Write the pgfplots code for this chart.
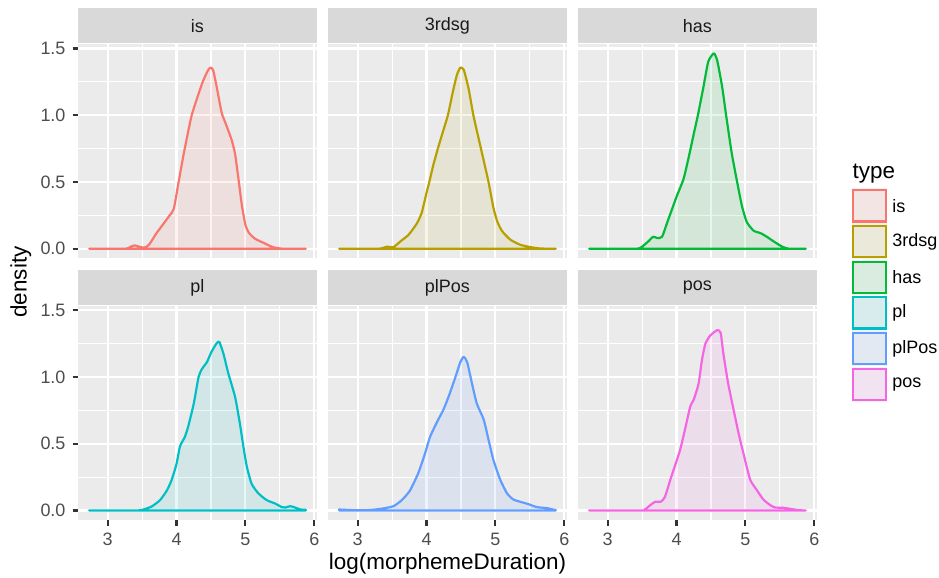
\documentclass[border=0pt]{standalone}
\usepackage{pgfplots}
\pgfplotsset{compat=1.18}
\usepackage{fontspec}
\setmainfont{Liberation Sans}
\definecolor{grey92}{HTML}{EBEBEB}
\definecolor{grey85}{HTML}{D9D9D9}
\definecolor{grey95}{HTML}{F2F2F2}
\definecolor{grey30}{HTML}{4D4D4D}
\definecolor{grey20}{HTML}{333333}
\definecolor{grey10}{HTML}{1A1A1A}
\definecolor{c1}{HTML}{F8766D}
\definecolor{c2}{HTML}{B79F00}
\definecolor{c3}{HTML}{00BA38}
\definecolor{c4}{HTML}{00BFC4}
\definecolor{c5}{HTML}{619CFF}
\definecolor{c6}{HTML}{F564E3}
\pgfplotsset{
 panel/.style={
  scale only axis, width=116.77pt, height=105.1pt,
  anchor=north west,
  xmin=2.573, xmax=6.034, ymin=-0.073, ymax=1.533,
  axis background/.style={fill=grey92},
  axis line style={draw=none},
  xmajorgrids, ymajorgrids, xminorgrids, yminorgrids,
  major grid style={white, line width=1.07pt},
  minor grid style={white, line width=0.53pt},
  xtick={3,4,5,6}, ytick={0,0.5,1,1.5},
  minor xtick={3.5,4.5,5.5}, minor ytick={0.25,0.75,1.25},
  xtick pos=bottom, ytick pos=left,
  tick align=outside, major tick length=2.75pt, minor tick length=0pt,
  tick style={grey20, line width=1.07pt},
  xticklabels={3,4,5,6}, yticklabels={0.0,0.5,1.0,1.5},
  /pgf/number format/assume math mode=true,
  ticklabel style={font=\fontsize{8.8}{10}\selectfont, text=grey30},
 },
 dens/.style={line width=1.07pt, line join=round, smooth, tension=0.35, draw=#1, fill=#1, fill opacity=0.1, draw opacity=1},
 notopx/.style={xmajorticks=false},
 noleft/.style={ymajorticks=false},
}
\begin{document}
\begin{tikzpicture}
\begin{scope}[x=0.49pt,y=0.49pt]
\path[use as bounding box] (0,0) rectangle (939,577);
\foreach \xl/\lab in {78.3/is,328.3/3rdsg,578.3/has} {
  \fill[grey85] (\xl,533.5) rectangle ++(238.3,35.2);
  \node[text=grey10, font=\fontsize{8.8}{10}\selectfont] at (\xl+119.15,551.1) {\lab};
}
\foreach \xl/\lab in {78.3/pl,328.3/plPos,578.3/pos} {
  \fill[grey85] (\xl,272) rectangle ++(238.3,35);
  \node[text=grey10, font=\fontsize{8.8}{10}\selectfont] at (\xl+119.15,289.5) {\lab};
}
\node[rotate=90, anchor=base, font=\fontsize{11}{13}\selectfont] at (26.5,295) {density};
\node[anchor=base, font=\fontsize{11}{13}\selectfont] at (447.5,8) {log(morphemeDuration)};
\node[anchor=base west, font=\fontsize{11}{13}\selectfont, inner sep=0pt] at (852.3,398.4) {type};
\foreach \i/\c/\lab in {0/c1/is,1/c2/3rdsg,2/c3/has,3/c4/pl,4/c5/plPos,5/c6/pos} {
  \pgfmathsetmacro{\yt}{577-189.3-35.67*\i}
  \fill[grey95] (851.5,\yt+0.8) rectangle ++(35.9,-35.3);
  \filldraw[draw=\c, fill=\c, fill opacity=0.1, draw opacity=1, line width=1.07pt] (853.3,\yt-1) rectangle ++(32.4,-31.2);
  \node[anchor=west, inner sep=0pt, font=\fontsize{8.8}{10}\selectfont] at (892,\yt-16.6) {\lab};
}
\end{scope}
% panel is
\begin{axis}[panel, notopx, at={(38.367pt,261.17pt)}]
\addplot[dens=c1] coordinates {(2.73,0)(3.25,0)(3.33,0.015)(3.39,0.025)(3.46,0.015)(3.53,0.008)(3.6,0.03)(3.7,0.11)(3.8,0.18)(3.9,0.25)(3.96,0.30)(4.03,0.50)(4.1,0.70)(4.17,0.88)(4.22,1.0)(4.3,1.13)(4.38,1.25)(4.45,1.33)(4.49,1.356)(4.53,1.34)(4.58,1.22)(4.62,1.11)(4.66,1.01)(4.73,0.915)(4.8,0.815)(4.85,0.71)(4.9,0.52)(4.95,0.32)(5.0,0.18)(5.05,0.12)(5.14,0.075)(5.26,0.045)(5.4,0.012)(5.55,0)(5.877,0)} \closedcycle;
\end{axis}
% panel 3rdsg
\begin{axis}[panel, notopx, noleft, at={(160.867pt,261.17pt)}]
\addplot[dens=c2] coordinates {(2.73,0)(3.3,0)(3.42,0.015)(3.52,0.012)(3.62,0.055)(3.74,0.105)(3.86,0.19)(3.93,0.27)(4.0,0.42)(4.04,0.5)(4.1,0.63)(4.17,0.76)(4.24,0.88)(4.31,1.0)(4.38,1.17)(4.44,1.30)(4.49,1.356)(4.54,1.34)(4.61,1.2)(4.68,1.0)(4.75,0.84)(4.83,0.66)(4.9,0.5)(4.97,0.31)(5.03,0.2)(5.1,0.13)(5.22,0.067)(5.36,0.03)(5.51,0.012)(5.65,0.002)(5.877,0)} \closedcycle;
\end{axis}
% panel has
\begin{axis}[panel, notopx, noleft, at={(283.367pt,261.17pt)}]
\addplot[dens=c3] coordinates {(2.73,0)(3.4,0)(3.49,0.012)(3.59,0.055)(3.66,0.09)(3.72,0.08)(3.79,0.09)(3.86,0.19)(3.93,0.29)(4.00,0.39)(4.10,0.52)(4.17,0.67)(4.25,0.86)(4.31,1.0)(4.39,1.21)(4.46,1.40)(4.54,1.463)(4.59,1.41)(4.66,1.22)(4.72,1.0)(4.8,0.72)(4.88,0.5)(4.95,0.32)(5.02,0.20)(5.12,0.135)(5.22,0.117)(5.31,0.09)(5.41,0.055)(5.53,0.017)(5.63,0)(5.877,0)} \closedcycle;
\end{axis}
% panel pl
\begin{axis}[panel, at={(38.367pt,132.94pt)}]
\addplot[dens=c4] coordinates {(2.73,0)(3.42,0)(3.52,0.007)(3.64,0.03)(3.76,0.077)(3.86,0.15)(3.93,0.23)(4.00,0.35)(4.05,0.48)(4.12,0.55)(4.17,0.63)(4.25,0.80)(4.32,1.00)(4.37,1.06)(4.44,1.11)(4.51,1.19)(4.58,1.25)(4.62,1.263)(4.68,1.175)(4.75,1.03)(4.85,0.85)(4.92,0.65)(4.97,0.48)(5.02,0.33)(5.09,0.20)(5.19,0.127)(5.31,0.077)(5.43,0.052)(5.53,0.025)(5.58,0.022)(5.65,0.032)(5.72,0.022)(5.80,0.007)(5.877,0.005)} \closedcycle;
\end{axis}
% panel plPos
\begin{axis}[panel, noleft, at={(160.867pt,132.94pt)}]
\addplot[dens=c5] coordinates {(2.73,0.007)(2.94,0.002)(3.18,0.003)(3.37,0.015)(3.52,0.032)(3.64,0.077)(3.76,0.15)(3.88,0.28)(3.98,0.43)(4.05,0.55)(4.15,0.66)(4.25,0.76)(4.34,0.88)(4.42,1.00)(4.49,1.11)(4.54,1.15)(4.59,1.11)(4.66,0.95)(4.73,0.80)(4.83,0.68)(4.90,0.53)(4.97,0.38)(5.07,0.23)(5.17,0.127)(5.26,0.082)(5.36,0.065)(5.48,0.047)(5.60,0.025)(5.75,0.017)(5.85,0.005)(5.877,0.003)} \closedcycle;
\end{axis}
% panel pos
\begin{axis}[panel, noleft, at={(283.367pt,132.94pt)}]
\addplot[dens=c6] coordinates {(2.73,0)(3.49,0)(3.54,0.007)(3.62,0.04)(3.69,0.065)(3.77,0.065)(3.83,0.10)(3.91,0.23)(3.98,0.34)(4.05,0.45)(4.12,0.60)(4.20,0.78)(4.25,0.83)(4.32,0.95)(4.37,1.13)(4.42,1.25)(4.49,1.31)(4.59,1.35)(4.64,1.33)(4.68,1.175)(4.75,0.95)(4.83,0.75)(4.90,0.58)(4.97,0.43)(5.07,0.23)(5.17,0.15)(5.26,0.082)(5.36,0.04)(5.43,0.022)(5.55,0.02)(5.65,0.012)(5.77,0.002)(5.877,0)} \closedcycle;
\end{axis}
\end{tikzpicture}
\end{document}
